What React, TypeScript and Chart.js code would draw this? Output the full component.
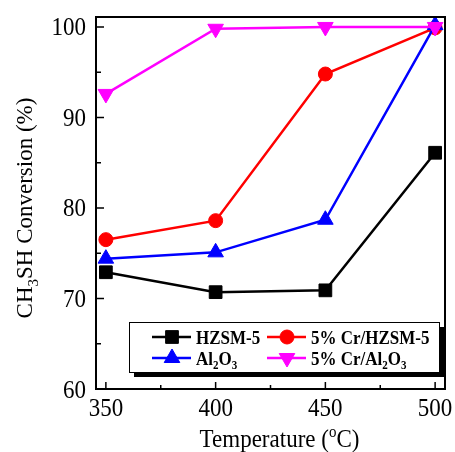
import { useEffect, useRef } from 'react';
import { Chart, registerables } from 'chart.js';

Chart.register(...registerables);

const temperatures = [350, 400, 450, 500];
const hzsm5 = [72.9, 70.7, 70.9, 86.1];
const crHzsm5 = [76.5, 78.6, 94.8, 99.9];
const al2o3 = [74.4, 75.1, 78.7, 100.2];
const crAl2o3 = [92.6, 99.8, 100.0, 100.0];

const xTicks = [350, 400, 450, 500];
const xMinorTicks = [375, 425, 475];
const yTicks = [60, 70, 80, 90, 100];
const yMinorTicks = [65, 75, 85, 95];

const FONT = '"Liberation Serif", "Times New Roman", serif';
const SY = 1.12;

type Seg = { t: string; s?: 'sub' | 'sup' };

function drawRich(
  ctx: CanvasRenderingContext2D,
  segs: Seg[],
  x: number,
  y: number,
  size: number,
  weight: string,
  align: 'left' | 'center' | 'right',
  stretchY = 1
) {
  const fontFor = (sg: Seg) =>
    `${weight} ${sg.s ? size * 0.65 : size}px ${FONT}`;
  let total = 0;
  const widths = segs.map((sg) => {
    ctx.font = fontFor(sg);
    const w = ctx.measureText(sg.t).width;
    total += w;
    return w;
  });
  ctx.save();
  ctx.translate(x, y);
  ctx.scale(1, stretchY);
  let cx = align === 'center' ? -total / 2 : align === 'right' ? -total : 0;
  ctx.textBaseline = 'alphabetic';
  ctx.textAlign = 'left';
  segs.forEach((sg, i) => {
    ctx.font = fontFor(sg);
    let dy = 0;
    if (sg.s === 'sub') dy = size * 0.25;
    if (sg.s === 'sup') dy = -size * 0.4;
    ctx.fillText(sg.t, cx, dy);
    cx += widths[i];
  });
  ctx.restore();
}

function drawMarker(
  ctx: CanvasRenderingContext2D,
  shape: string,
  x: number,
  y: number,
  color: string
) {
  ctx.fillStyle = color;
  ctx.strokeStyle = color;
  ctx.lineWidth = 1;
  ctx.beginPath();
  const r = 9;
  if (shape === 'rect') {
    const h = r * Math.SQRT1_2;
    ctx.rect(x - h, y - h, 2 * h, 2 * h);
  } else if (shape === 'circle') {
    ctx.arc(x, y, 7, 0, Math.PI * 2);
  } else if (shape === 'up') {
    ctx.moveTo(x, y - r);
    ctx.lineTo(x + r * Math.sin((2 * Math.PI) / 3), y + r / 2);
    ctx.lineTo(x - r * Math.sin((2 * Math.PI) / 3), y + r / 2);
    ctx.closePath();
  } else {
    ctx.moveTo(x, y + r);
    ctx.lineTo(x + r * Math.sin((2 * Math.PI) / 3), y - r / 2);
    ctx.lineTo(x - r * Math.sin((2 * Math.PI) / 3), y - r / 2);
    ctx.closePath();
  }
  ctx.fill();
  ctx.stroke();
}

const framePlugin = {
  id: 'frameAndExtras',
  afterDatasetsDraw(chart: any) {
    const ctx: CanvasRenderingContext2D = chart.ctx;
    const { left, right, top, bottom } = chart.chartArea;
    const xs = chart.scales.x;
    const ys = chart.scales.y;
    ctx.save();
    // inward ticks
    ctx.strokeStyle = '#000';
    ctx.lineWidth = 1.5;
    ctx.beginPath();
    xTicks.forEach((v) => {
      const px = xs.getPixelForValue(v);
      ctx.moveTo(px, bottom);
      ctx.lineTo(px, bottom - 7);
    });
    xMinorTicks.forEach((v) => {
      const px = xs.getPixelForValue(v);
      ctx.moveTo(px, bottom);
      ctx.lineTo(px, bottom - 4);
    });
    yTicks.forEach((v) => {
      const py = ys.getPixelForValue(v);
      ctx.moveTo(left, py);
      ctx.lineTo(left + 8, py);
    });
    yMinorTicks.forEach((v) => {
      const py = ys.getPixelForValue(v);
      ctx.moveTo(left, py);
      ctx.lineTo(left + 5, py);
    });
    ctx.stroke();
    // frame
    ctx.lineWidth = 2;
    ctx.strokeRect(left, top, right - left, bottom - top);

    // tick labels
    ctx.fillStyle = '#000';
    xs.ticks.forEach((t: any) => {
      const px = xs.getPixelForValue(t.value);
      drawRich(ctx, [{ t: String(t.value) }], px, bottom + 27, 23, 'normal', 'center', SY);
    });
    ys.ticks.forEach((t: any) => {
      const py = ys.getPixelForValue(t.value);
      drawRich(ctx, [{ t: String(t.value) }], left - 10, py + 8.5, 23, 'normal', 'right', SY);
    });

    // legend
    const lx = 129, ly = 322, lw = 310, lh = 50;
    ctx.fillStyle = '#000';
    ctx.fillRect(lx + 5, ly + 5, lw, lh);
    ctx.fillStyle = '#fff';
    ctx.fillRect(lx, ly, lw, lh);
    ctx.strokeStyle = '#000';
    ctx.lineWidth = 1;
    ctx.strokeRect(lx + 0.5, ly + 0.5, lw, lh);

    const items = [
      { col: 0, row: 0, color: '#000000', shape: 'rect', label: [{ t: 'HZSM-5' }] as Seg[] },
      { col: 1, row: 0, color: '#ff0000', shape: 'circle', label: [{ t: '5% Cr/HZSM-5' }] as Seg[] },
      {
        col: 0, row: 1, color: '#0000ff', shape: 'up',
        label: [{ t: 'Al' }, { t: '2', s: 'sub' }, { t: 'O' }, { t: '3', s: 'sub' }] as Seg[],
      },
      {
        col: 1, row: 1, color: '#ff00ff', shape: 'down',
        label: [{ t: '5% Cr/Al' }, { t: '2', s: 'sub' }, { t: 'O' }, { t: '3', s: 'sub' }] as Seg[],
      },
    ];
    const colX = [152, 267];
    const rowY = [337, 358];
    items.forEach((it) => {
      const x0 = colX[it.col];
      const y0 = rowY[it.row];
      ctx.strokeStyle = it.color;
      ctx.lineWidth = 2.5;
      ctx.beginPath();
      ctx.moveTo(x0, y0);
      ctx.lineTo(x0 + 39, y0);
      ctx.stroke();
      drawMarker(ctx, it.shape, x0 + 20, y0, it.color);
      ctx.fillStyle = '#000';
      drawRich(ctx, it.label, x0 + 44, y0 + 6.5, 17, 'bold', 'left', SY);
    });

    // axis titles
    ctx.fillStyle = '#000';
    drawRich(
      ctx,
      [{ t: 'Temperature (' }, { t: 'o', s: 'sup' }, { t: 'C)' }],
      (left + right) / 2 + 9,
      447,
      23,
      'normal',
      'center',
      1.05
    );
    ctx.save();
    ctx.translate(32, 208);
    ctx.rotate(-Math.PI / 2);
    drawRich(
      ctx,
      [{ t: 'CH' }, { t: '3', s: 'sub' }, { t: 'SH Conversion (%)' }],
      0,
      0,
      23,
      'normal',
      'center'
    );
    ctx.restore();
    ctx.restore();
  },
};

export default function App() {
  const ref = useRef<HTMLCanvasElement | null>(null);

  useEffect(() => {
    if (!ref.current) return;
    const mk = (label: string, data: number[], color: string, style: string, rot: number, order: number, radius: number) => ({
      label,
      data: temperatures.map((t, i) => ({ x: t, y: data[i] })),
      borderColor: color,
      backgroundColor: color,
      borderWidth: 2.5,
      pointStyle: style,
      pointRotation: rot,
      pointRadius: radius,
      pointBorderWidth: 1,
      pointBackgroundColor: color,
      pointBorderColor: color,
      order,
      clip: false as any,
    });
    const chart = new Chart(ref.current, {
      type: 'line',
      data: {
        datasets: [
          mk('5% Cr/Al2O3', crAl2o3, '#ff00ff', 'triangle', 180, 0, 9),
          mk('Al2O3', al2o3, '#0000ff', 'triangle', 0, 1, 9),
          mk('5% Cr/HZSM-5', crHzsm5, '#ff0000', 'circle', 0, 2, 7),
          mk('HZSM-5', hzsm5, '#000000', 'rect', 0, 3, 9),
        ] as any,
      },
      options: {
        responsive: false,
        animation: false,
        devicePixelRatio: 1,
        layout: { padding: { top: 17, right: 7, left: 0, bottom: 0 } },
        plugins: { legend: { display: false }, tooltip: { enabled: false } },
        scales: {
          x: {
            type: 'linear',
            min: 345.5,
            max: 504.5,
            afterBuildTicks: (s: any) => {
              s.ticks = xTicks.map((v) => ({ value: v }));
            },
            afterFit: (s: any) => {
              s.height = 63;
              s.paddingLeft = 0;
              s.paddingRight = 0;
            },
            grid: { display: false, drawTicks: false },
            border: { display: false },
            ticks: { display: false },
          },
          y: {
            type: 'linear',
            min: 60,
            max: 101.1,
            afterBuildTicks: (s: any) => {
              s.ticks = yTicks.map((v) => ({ value: v }));
            },
            afterFit: (s: any) => {
              s.width = 96;
              s.paddingTop = 0;
              s.paddingBottom = 0;
            },
            grid: { display: false, drawTicks: false },
            border: { display: false },
            ticks: { display: false },
          },
        },
      } as any,
      plugins: [framePlugin],
    });
    return () => chart.destroy();
  }, []);

  return (
    <div style={{ position: 'absolute', left: 0, top: 0, width: 455, height: 452, background: '#fff' }}>
      <canvas ref={ref} width={455} height={452} style={{ display: 'block' }} />
    </div>
  );
}
